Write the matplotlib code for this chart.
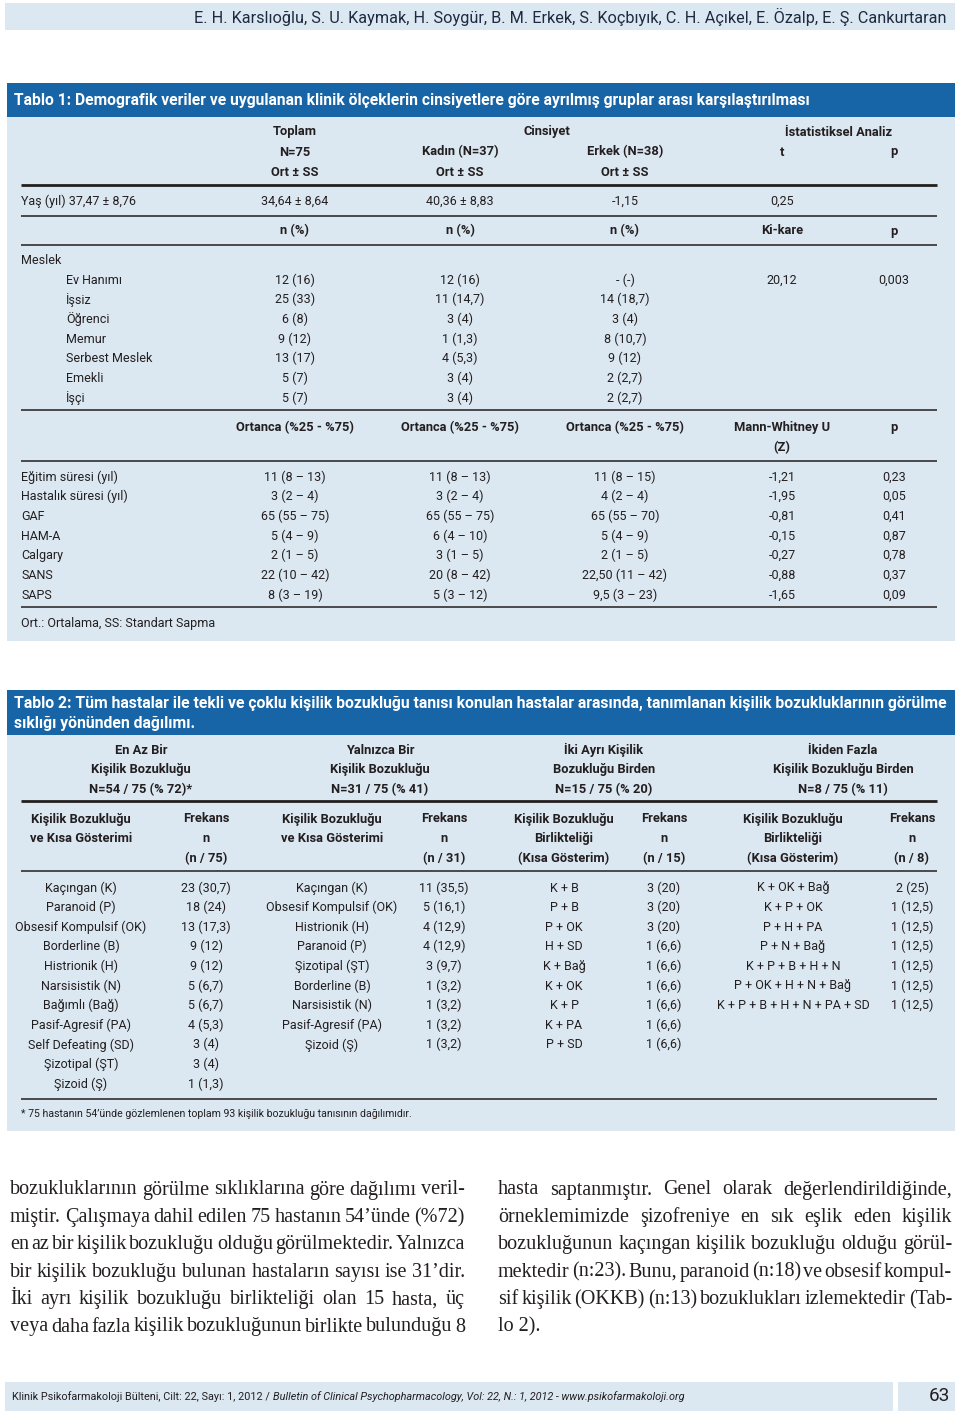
import matplotlib
matplotlib.use("Agg")
import matplotlib.pyplot as plt
from matplotlib.patches import Rectangle

# ---------------- data ----------------
authors = "E. H. Karslıoğlu, S. U. Kaymak, H. Soygür, B. M. Erkek, S. Koçbıyık, C. H. Açıkel, E. Özalp, E. Ş. Cankurtaran"

t1_title = "Tablo 1: Demografik veriler ve uygulanan klinik ölçeklerin cinsiyetlere göre ayrılmış gruplar arası karşılaştırılması"
t1_head1 = ["Toplam", "Cinsiyet", "İstatistiksel Analiz"]
t1_head2 = ["N=75", "Kadın (N=37)", "Erkek (N=38)", "t", "p"]
t1_head3 = ["Ort ± SS", "Ort ± SS", "Ort ± SS"]
age_label = "Yaş (yıl) 37,47 ± 8,76"
age_values = ["34,64 ± 8,64", "40,36 ± 8,83", "-1,15", "0,25"]
t1_head4 = ["n (%)", "n (%)", "n (%)", "Ki-kare", "p"]
meslek_title = "Meslek"
meslek_labels = ["Ev Hanımı", "İşsiz", "Öğrenci", "Memur", "Serbest Meslek", "Emekli", "İşçi"]
meslek_toplam = ["12 (16)", "25 (33)", "6 (8)", "9 (12)", "13 (17)", "5 (7)", "5 (7)"]
meslek_kadin = ["12 (16)", "11 (14,7)", "3 (4)", "1 (1,3)", "4 (5,3)", "3 (4)", "3 (4)"]
meslek_erkek = ["- (-)", "14 (18,7)", "3 (4)", "8 (10,7)", "9 (12)", "2 (2,7)", "2 (2,7)"]
meslek_chi = ["20,12", "", "", "", "", "", ""]
meslek_p = ["0,003", "", "", "", "", "", ""]
t1_head5 = ["Ortanca (%25 - %75)", "Ortanca (%25 - %75)", "Ortanca (%25 - %75)", "Mann-Whitney U", "p"]
t1_head5b = "(Z)"
clin_labels = ["Eğitim süresi (yıl)", "Hastalık süresi (yıl)", "GAF", "HAM-A", "Calgary", "SANS", "SAPS"]
clin_toplam = ["11 (8 – 13)", "3 (2 – 4)", "65 (55 – 75)", "5 (4 – 9)", "2 (1 – 5)", "22 (10 – 42)", "8 (3 – 19)"]
clin_kadin = ["11 (8 – 13)", "3 (2 – 4)", "65 (55 – 75)", "6 (4 – 10)", "3 (1 – 5)", "20 (8 – 42)", "5 (3 – 12)"]
clin_erkek = ["11 (8 – 15)", "4 (2 – 4)", "65 (55 – 70)", "5 (4 – 9)", "2 (1 – 5)", "22,50 (11 – 42)", "9,5 (3 – 23)"]
clin_z = ["-1,21", "-1,95", "-0,81", "-0,15", "-0,27", "-0,88", "-1,65"]
clin_p = ["0,23", "0,05", "0,41", "0,87", "0,78", "0,37", "0,09"]
t1_note = "Ort.: Ortalama, SS: Standart Sapma"

t2_title = ["Tablo 2: Tüm hastalar ile tekli ve çoklu kişilik bozukluğu tanısı konulan hastalar arasında, tanımlanan kişilik bozukluklarının görülme",
            "sıklığı yönünden dağılımı."]
t2_groups = [["En Az Bir", "Kişilik Bozukluğu", "N=54 / 75 (% 72)*"],
             ["Yalnızca Bir", "Kişilik Bozukluğu", "N=31 / 75 (% 41)"],
             ["İki Ayrı Kişilik", "Bozukluğu Birden", "N=15 / 75 (% 20)"],
             ["İkiden Fazla", "Kişilik Bozukluğu Birden", "N=8 / 75 (% 11)"]]
t2_sub_label = [["Kişilik Bozukluğu", "ve Kısa Gösterimi", ""],
                ["Kişilik Bozukluğu", "ve Kısa Gösterimi", ""],
                ["Kişilik Bozukluğu", "Birlikteliği", "(Kısa Gösterim)"],
                ["Kişilik Bozukluğu", "Birlikteliği", "(Kısa Gösterim)"]]
t2_sub_freq = [["Frekans", "n", "(n / 75)"], ["Frekans", "n", "(n / 31)"],
               ["Frekans", "n", "(n / 15)"], ["Frekans", "n", "(n / 8)"]]
g1_labels = ["Kaçıngan (K)", "Paranoid (P)", "Obsesif Kompulsif (OK)", "Borderline (B)", "Histrionik (H)",
             "Narsisistik (N)", "Bağımlı (Bağ)", "Pasif-Agresif (PA)", "Self Defeating (SD)", "Şizotipal (ŞT)", "Şizoid (Ş)"]
g1_freq = ["23 (30,7)", "18 (24)", "13 (17,3)", "9 (12)", "9 (12)", "5 (6,7)", "5 (6,7)", "4 (5,3)", "3 (4)", "3 (4)", "1 (1,3)"]
g2_labels = ["Kaçıngan (K)", "Obsesif Kompulsif (OK)", "Histrionik (H)", "Paranoid (P)", "Şizotipal (ŞT)",
             "Borderline (B)", "Narsisistik (N)", "Pasif-Agresif (PA)", "Şizoid (Ş)"]
g2_freq = ["11 (35,5)", "5 (16,1)", "4 (12,9)", "4 (12,9)", "3 (9,7)", "1 (3,2)", "1 (3,2)", "1 (3,2)", "1 (3,2)"]
g3_labels = ["K + B", "P + B", "P + OK", "H + SD", "K + Bağ", "K + OK", "K + P", "K + PA", "P + SD"]
g3_freq = ["3 (20)", "3 (20)", "3 (20)", "1 (6,6)", "1 (6,6)", "1 (6,6)", "1 (6,6)", "1 (6,6)", "1 (6,6)"]
g4_labels = ["K + OK + Bağ", "K + P + OK", "P + H + PA", "P + N + Bağ", "K + P + B + H + N",
             "P + OK + H + N + Bağ", "K + P + B + H + N + PA + SD"]
g4_freq = ["2 (25)", "1 (12,5)", "1 (12,5)", "1 (12,5)", "1 (12,5)", "1 (12,5)", "1 (12,5)"]
t2_note = "* 75 hastanın 54’ünde gözlemlenen toplam 93 kişilik bozukluğu tanısının dağılımıdır."

body_left = ["bozukluklarının görülme sıklıklarına göre dağılımı veril-",
             "miştir. Çalışmaya dahil edilen 75 hastanın 54’ünde (%72)",
             "en az bir kişilik bozukluğu olduğu görülmektedir. Yalnızca",
             "bir kişilik bozukluğu bulunan hastaların sayısı ise 31’dir.",
             "İki ayrı kişilik bozukluğu birlikteliği olan 15 hasta, üç",
             "veya daha fazla kişilik bozukluğunun birlikte bulunduğu 8"]
body_right = ["hasta saptanmıştır. Genel olarak değerlendirildiğinde,",
              "örneklemimizde şizofreniye en sık eşlik eden kişilik",
              "bozukluğunun kaçıngan kişilik bozukluğu olduğu görül-",
              "mektedir (n:23). Bunu, paranoid (n:18) ve obsesif kompul-",
              "sif kişilik (OKKB) (n:13) bozuklukları izlemektedir (Tab-",
              "lo 2)."]

footer_plain = "Klinik Psikofarmakoloji Bülteni, Cilt: 22, Sayı: 1, 2012 / "
footer_italic = "Bulletin of Clinical Psychopharmacology, Vol: 22, N.: 1, 2012 - www.psikofarmakoloji.org"
page_no = "63"

# ---------------- style ----------------
W, H = 960, 1413
BLUE = "#1764a6"
LIGHT = "#dbe7f1"
INK = "#231f20"
PX = 0.72
DY = 1.0
SANS = ["Roboto", "DejaVu Sans"]
SERIF = ["Liberation Serif", "DejaVu Serif"]

fig = plt.figure(figsize=(W / 100, H / 100), dpi=100)
ax = fig.add_axes([0, 0, 1, 1])
ax.set_xlim(0, W)
ax.set_ylim(H, 0)
ax.axis("off")
renderer = fig.canvas.get_renderer()


def measure(s, size_px, family, weight="normal", style="normal"):
    t = ax.text(0, 0, s, fontsize=size_px * PX, family=family, fontweight=weight, fontstyle=style)
    w = t.get_window_extent(renderer=renderer).width
    t.remove()
    return w


def fit(s, target, family, weight="normal", style="normal"):
    return 20 * target / measure(s, 20, family, weight, style)


def txt(x, y, s, size, ha="center", weight="normal", color=INK, family=SANS, style="normal"):
    if s:
        ax.text(x, y + DY, s, fontsize=size * PX, ha=ha, va="center", fontweight=weight,
                color=color, family=family, fontstyle=style)


def hline(y, lw=1.1, x0=21, x1=937):
    ax.plot([x0, x1], [y, y], color=INK, lw=lw, solid_capstyle="butt")


def rect(x, y, w, h, c):
    ax.add_patch(Rectangle((x, y), w, h, facecolor=c, edgecolor="none"))


def justify(line, x0, x1, y, size, family):
    words = line.split(" ")
    ws = [measure(wd, size, family) for wd in words]
    gap = (x1 - x0 - sum(ws)) / (len(words) - 1)
    x = x0
    for wd, w in zip(words, ws):
        txt(x, y, wd, size, ha="left", family=family)
        x += w + gap


# sizes
S_BODY = fit("Eğitim süresi (yıl)", 96, SANS)
S_BOLD = fit("Kişilik Bozukluğu", 100, SANS, "bold")
S_T1 = fit(t1_title, 794, SANS, "bold")
S_T2 = fit(t2_title[0], 932, SANS, "bold")
S_AUTH = fit(authors, 749, SANS)

# ---------------- banner ----------------
rect(5, 3, 950, 27, LIGHT)
txt(946, 15.5, authors, S_AUTH, ha="right", color="#1c2b3f")

# ---------------- table 1 ----------------
rect(7, 83, 948, 34, BLUE)
rect(7, 117, 948, 524, LIGHT)
txt(14, 100, t1_title, S_T1, ha="left", weight="bold", color="white")

c5 = [295, 460, 625, 782, 894]
for s, x in zip(t1_head1, [295, 547, 839]):
    txt(x, 131, s, S_BOLD, weight="bold")
for s, x in zip(t1_head2, c5):
    txt(x, 151, s, S_BOLD, weight="bold")
for s, x in zip(t1_head3, c5):
    txt(x, 171, s, S_BOLD, weight="bold")
hline(184.5, lw=2.0)
txt(21, 200, age_label, S_BODY, ha="left")
for s, x in zip(age_values, c5):
    txt(x, 200, s, S_BODY)
hline(215.5)
for s, x in zip(t1_head4, c5):
    txt(x, 230, s, S_BOLD, weight="bold")
hline(245)
txt(21, 259, meslek_title, S_BODY, ha="left")
for i in range(len(meslek_labels)):
    y = 279 + 19.67 * i
    txt(66, y, meslek_labels[i], S_BODY, ha="left")
    for s, x in zip([meslek_toplam[i], meslek_kadin[i], meslek_erkek[i], meslek_chi[i], meslek_p[i]], c5):
        txt(x, y, s, S_BODY)
hline(410)
for s, x in zip(t1_head5, c5):
    txt(x, 427, s, S_BOLD, weight="bold")
txt(782, 447, t1_head5b, S_BOLD, weight="bold")
hline(460.5)
for i in range(len(clin_labels)):
    y = 476 + 19.67 * i
    txt(21, y, clin_labels[i], S_BODY, ha="left")
    for s, x in zip([clin_toplam[i], clin_kadin[i], clin_erkek[i], clin_z[i], clin_p[i]], c5):
        txt(x, y, s, S_BODY)
hline(607)
txt(21, 623, t1_note, S_BODY, ha="left")

# ---------------- table 2 ----------------
rect(7, 690, 948, 45, BLUE)
rect(7, 735, 948, 396, LIGHT)
txt(14, 702, t2_title[0], S_T2, ha="left", weight="bold", color="white")
txt(14, 722, t2_title[1], S_T2, ha="left", weight="bold", color="white")

gx = [141, 380, 604, 843]
for g, x in zip(t2_groups, gx):
    for j, s in enumerate(g):
        txt(x, 749 + 19.6 * j, s, S_BOLD, weight="bold")
hline(800.5, lw=2.0)
lab_x = [81, 332, 564, 793]
frq_x = [206, 444, 664, 912]
for k in range(4):
    for j in range(3):
        txt(lab_x[k], 818 + 19.6 * j, t2_sub_label[k][j], S_BOLD, weight="bold")
        txt(frq_x[k], 818 + 19.6 * j, t2_sub_freq[k][j], S_BOLD, weight="bold")
hline(870.5)
for k, (labs, frqs) in enumerate([(g1_labels, g1_freq), (g2_labels, g2_freq),
                                  (g3_labels, g3_freq), (g4_labels, g4_freq)]):
    for i in range(len(labs)):
        y = 887 + 19.6 * i
        txt(lab_x[k], y, labs[i], S_BODY)
        txt(frq_x[k], y, frqs[i], S_BODY)
hline(1098.5)
S_NOTE = fit(t2_note, 391, SANS)
txt(21, 1113, t2_note, S_NOTE, ha="left")

# ---------------- body text ----------------
S_SERIF = min(fit(l, 455, SERIF) for l in body_left[:6] + body_right[:5]) * 1.04
pitch = 27.4
for i, l in enumerate(body_left):
    justify(l, 10, 465, 1189 + pitch * i, S_SERIF, SERIF)
for i, l in enumerate(body_right):
    y = 1189 + pitch * i
    if i < 5:
        justify(l, 498, 952, y, S_SERIF, SERIF)
    else:
        txt(498, y, l, S_SERIF, ha="left", family=SERIF)

# ---------------- footer ----------------
rect(5, 1382, 888, 29, LIGHT)
rect(898, 1382, 57, 29, LIGHT)
w_plain20 = measure(footer_plain, 20, SANS)
w_ital20 = measure(footer_italic, 20, SANS, style="italic")
S_FOOT = 20 * 675 / (w_plain20 + w_ital20)
txt(12, 1396, footer_plain, S_FOOT, ha="left")
txt(12 + w_plain20 * S_FOOT / 20, 1396, footer_italic, S_FOOT, ha="left", style="italic")
txt(950, 1395, page_no, 19, ha="right")

fig.savefig("out.png", dpi=100)
